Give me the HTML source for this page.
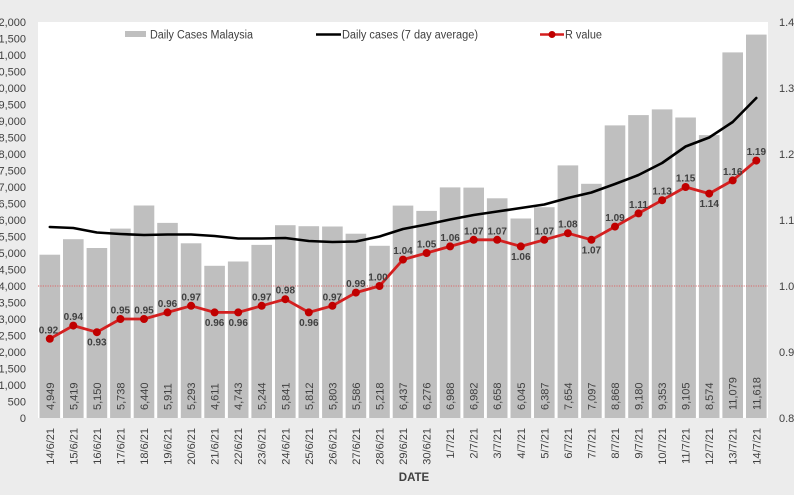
<!DOCTYPE html>
<html><head><meta charset="utf-8"><style>
html,body{margin:0;padding:0;background:#ececec;}
svg{display:block;}
text{font-family:"Liberation Sans",sans-serif;fill:#404040;}
</style></head><body>
<svg width="794" height="495" viewBox="0 0 794 495" xmlns="http://www.w3.org/2000/svg">
<rect x="0" y="0" width="794" height="495" fill="#ececec"/>
<rect x="38" y="22" width="730" height="396" fill="#ffffff"/>

<!-- left axis -->
<g font-size="11" text-anchor="end">
<text x="26" y="26">12,000</text>
<text x="26" y="42.5">11,500</text>
<text x="26" y="59">11,000</text>
<text x="26" y="75.5">10,500</text>
<text x="26" y="92">10,000</text>
<text x="26" y="108.5">9,500</text>
<text x="26" y="125">9,000</text>
<text x="26" y="141.5">8,500</text>
<text x="26" y="158">8,000</text>
<text x="26" y="174.5">7,500</text>
<text x="26" y="191">7,000</text>
<text x="26" y="207.5">6,500</text>
<text x="26" y="224">6,000</text>
<text x="26" y="240.5">5,500</text>
<text x="26" y="257">5,000</text>
<text x="26" y="273.5">4,500</text>
<text x="26" y="290">4,000</text>
<text x="26" y="306.5">3,500</text>
<text x="26" y="323">3,000</text>
<text x="26" y="339.5">2,500</text>
<text x="26" y="356">2,000</text>
<text x="26" y="372.5">1,500</text>
<text x="26" y="389">1,000</text>
<text x="26" y="405.5">500</text>
<text x="26" y="422">0</text>
</g>

<!-- right axis -->
<g font-size="11">
<text x="779" y="26">1.4</text>
<text x="779" y="92">1.3</text>
<text x="779" y="158">1.2</text>
<text x="779" y="224">1.1</text>
<text x="779" y="290">1.0</text>
<text x="779" y="356">0.9</text>
<text x="779" y="422">0.8</text>
</g>

<!-- bars -->
<g fill="#bfbfbf">
<rect x="39.5" y="254.7" width="20.6" height="163.3"/>
<rect x="63.0" y="239.2" width="20.6" height="178.8"/>
<rect x="86.6" y="248.0" width="20.6" height="170.0"/>
<rect x="110.1" y="228.6" width="20.6" height="189.4"/>
<rect x="133.7" y="205.5" width="20.6" height="212.5"/>
<rect x="157.2" y="222.9" width="20.6" height="195.1"/>
<rect x="180.8" y="243.3" width="20.6" height="174.7"/>
<rect x="204.3" y="265.8" width="20.6" height="152.2"/>
<rect x="227.9" y="261.5" width="20.6" height="156.5"/>
<rect x="251.4" y="244.9" width="20.6" height="173.1"/>
<rect x="275.0" y="225.2" width="20.6" height="192.8"/>
<rect x="298.5" y="226.2" width="20.6" height="191.8"/>
<rect x="322.1" y="226.5" width="20.6" height="191.5"/>
<rect x="345.6" y="233.7" width="20.6" height="184.3"/>
<rect x="369.2" y="245.8" width="20.6" height="172.2"/>
<rect x="392.7" y="205.6" width="20.6" height="212.4"/>
<rect x="416.3" y="210.9" width="20.6" height="207.1"/>
<rect x="439.8" y="187.4" width="20.6" height="230.6"/>
<rect x="463.4" y="187.6" width="20.6" height="230.4"/>
<rect x="486.9" y="198.3" width="20.6" height="219.7"/>
<rect x="510.5" y="218.5" width="20.6" height="199.5"/>
<rect x="534.0" y="207.2" width="20.6" height="210.8"/>
<rect x="557.6" y="165.4" width="20.6" height="252.6"/>
<rect x="581.1" y="183.8" width="20.6" height="234.2"/>
<rect x="604.7" y="125.4" width="20.6" height="292.6"/>
<rect x="628.2" y="115.1" width="20.6" height="302.9"/>
<rect x="651.8" y="109.4" width="20.6" height="308.6"/>
<rect x="675.3" y="117.5" width="20.6" height="300.5"/>
<rect x="698.9" y="135.1" width="20.6" height="282.9"/>
<rect x="722.4" y="52.4" width="20.6" height="365.6"/>
<rect x="746.0" y="34.6" width="20.6" height="383.4"/>
</g>

<!-- bar value labels -->
<g font-size="11" fill="#404040">
<text transform="translate(53.8,410) rotate(-90)">4,949</text>
<text transform="translate(77.3,410) rotate(-90)">5,419</text>
<text transform="translate(100.9,410) rotate(-90)">5,150</text>
<text transform="translate(124.4,410) rotate(-90)">5,738</text>
<text transform="translate(148.0,410) rotate(-90)">6,440</text>
<text transform="translate(171.5,410) rotate(-90)">5,911</text>
<text transform="translate(195.1,410) rotate(-90)">5,293</text>
<text transform="translate(218.6,410) rotate(-90)">4,611</text>
<text transform="translate(242.2,410) rotate(-90)">4,743</text>
<text transform="translate(265.7,410) rotate(-90)">5,244</text>
<text transform="translate(289.3,410) rotate(-90)">5,841</text>
<text transform="translate(312.8,410) rotate(-90)">5,812</text>
<text transform="translate(336.4,410) rotate(-90)">5,803</text>
<text transform="translate(359.9,410) rotate(-90)">5,586</text>
<text transform="translate(383.5,410) rotate(-90)">5,218</text>
<text transform="translate(407.0,410) rotate(-90)">6,437</text>
<text transform="translate(430.6,410) rotate(-90)">6,276</text>
<text transform="translate(454.1,410) rotate(-90)">6,988</text>
<text transform="translate(477.7,410) rotate(-90)">6,982</text>
<text transform="translate(501.2,410) rotate(-90)">6,658</text>
<text transform="translate(524.8,410) rotate(-90)">6,045</text>
<text transform="translate(548.3,410) rotate(-90)">6,387</text>
<text transform="translate(571.9,410) rotate(-90)">7,654</text>
<text transform="translate(595.4,410) rotate(-90)">7,097</text>
<text transform="translate(619.0,410) rotate(-90)">8,868</text>
<text transform="translate(642.5,410) rotate(-90)">9,180</text>
<text transform="translate(666.1,410) rotate(-90)">9,353</text>
<text transform="translate(689.6,410) rotate(-90)">9,105</text>
<text transform="translate(713.2,410) rotate(-90)">8,574</text>
<text transform="translate(736.7,410) rotate(-90)">11,079</text>
<text transform="translate(760.3,410) rotate(-90)">11,618</text>
</g>

<!-- x labels -->
<g font-size="11" text-anchor="end">
<text transform="translate(53.8,428) rotate(-90)">14/6/21</text>
<text transform="translate(77.3,428) rotate(-90)">15/6/21</text>
<text transform="translate(100.9,428) rotate(-90)">16/6/21</text>
<text transform="translate(124.4,428) rotate(-90)">17/6/21</text>
<text transform="translate(148.0,428) rotate(-90)">18/6/21</text>
<text transform="translate(171.5,428) rotate(-90)">19/6/21</text>
<text transform="translate(195.1,428) rotate(-90)">20/6/21</text>
<text transform="translate(218.6,428) rotate(-90)">21/6/21</text>
<text transform="translate(242.2,428) rotate(-90)">22/6/21</text>
<text transform="translate(265.7,428) rotate(-90)">23/6/21</text>
<text transform="translate(289.3,428) rotate(-90)">24/6/21</text>
<text transform="translate(312.8,428) rotate(-90)">25/6/21</text>
<text transform="translate(336.4,428) rotate(-90)">26/6/21</text>
<text transform="translate(359.9,428) rotate(-90)">27/6/21</text>
<text transform="translate(383.5,428) rotate(-90)">28/6/21</text>
<text transform="translate(407.0,428) rotate(-90)">29/6/21</text>
<text transform="translate(430.6,428) rotate(-90)">30/6/21</text>
<text transform="translate(454.1,428) rotate(-90)">1/7/21</text>
<text transform="translate(477.7,428) rotate(-90)">2/7/21</text>
<text transform="translate(501.2,428) rotate(-90)">3/7/21</text>
<text transform="translate(524.8,428) rotate(-90)">4/7/21</text>
<text transform="translate(548.3,428) rotate(-90)">5/7/21</text>
<text transform="translate(571.9,428) rotate(-90)">6/7/21</text>
<text transform="translate(595.4,428) rotate(-90)">7/7/21</text>
<text transform="translate(619.0,428) rotate(-90)">8/7/21</text>
<text transform="translate(642.5,428) rotate(-90)">9/7/21</text>
<text transform="translate(666.1,428) rotate(-90)">10/7/21</text>
<text transform="translate(689.6,428) rotate(-90)">11/7/21</text>
<text transform="translate(713.2,428) rotate(-90)">12/7/21</text>
<text transform="translate(736.7,428) rotate(-90)">13/7/21</text>
<text transform="translate(760.3,428) rotate(-90)">14/7/21</text>
</g>

<text x="414" y="481" font-size="11.5" font-weight="bold" text-anchor="middle">DATE</text>

<!-- dotted R=1 line -->
<line x1="38" y1="286" x2="768" y2="286" stroke="#d96a6a" stroke-width="1" stroke-dasharray="1.2,1.2"/>

<!-- 7-day average -->
<polyline fill="none" stroke="#000" stroke-width="2.6" stroke-linejoin="round" stroke-linecap="round"
points="49.8,227 73.3,228 96.9,232.5 120.4,234 144.0,235 167.5,234.5 191.1,234.5 214.6,236 238.2,238.5 261.7,238.5 285.3,238 308.8,241 332.4,242 355.9,241.5 379.5,236.5 403.0,229 426.6,224.5 450.1,219.5 473.7,215 497.2,211.5 520.8,208 544.3,204.5 567.9,198 591.4,192.5 615.0,184 638.5,175 662.1,163 685.6,146.5 709.2,137.5 732.7,122 756.3,98"/>

<!-- R value -->
<polyline fill="none" stroke="#d41f1f" stroke-width="2.8" stroke-linejoin="round"
points="49.8,338.8 73.3,325.6 96.9,332.2 120.4,319 144.0,319 167.5,312.4 191.1,305.8 214.6,312.4 238.2,312.4 261.7,305.8 285.3,299.2 308.8,312.4 332.4,305.8 355.9,292.6 379.5,286 403.0,259.6 426.6,253 450.1,246.4 473.7,239.8 497.2,239.8 520.8,246.4 544.3,239.8 567.9,233.2 591.4,239.8 615.0,226.6 638.5,213.4 662.1,200.2 685.6,187 709.2,193.6 732.7,180.4 756.3,160.6"/>
<g fill="#c00000">
<circle cx="49.8" cy="338.8" r="4"/><circle cx="73.3" cy="325.6" r="4"/><circle cx="96.9" cy="332.2" r="4"/><circle cx="120.4" cy="319" r="4"/><circle cx="144.0" cy="319" r="4"/><circle cx="167.5" cy="312.4" r="4"/><circle cx="191.1" cy="305.8" r="4"/><circle cx="214.6" cy="312.4" r="4"/><circle cx="238.2" cy="312.4" r="4"/><circle cx="261.7" cy="305.8" r="4"/><circle cx="285.3" cy="299.2" r="4"/><circle cx="308.8" cy="312.4" r="4"/><circle cx="332.4" cy="305.8" r="4"/><circle cx="355.9" cy="292.6" r="4"/><circle cx="379.5" cy="286" r="4"/><circle cx="403.0" cy="259.6" r="4"/><circle cx="426.6" cy="253" r="4"/><circle cx="450.1" cy="246.4" r="4"/><circle cx="473.7" cy="239.8" r="4"/><circle cx="497.2" cy="239.8" r="4"/><circle cx="520.8" cy="246.4" r="4"/><circle cx="544.3" cy="239.8" r="4"/><circle cx="567.9" cy="233.2" r="4"/><circle cx="591.4" cy="239.8" r="4"/><circle cx="615.0" cy="226.6" r="4"/><circle cx="638.5" cy="213.4" r="4"/><circle cx="662.1" cy="200.2" r="4"/><circle cx="685.6" cy="187" r="4"/><circle cx="709.2" cy="193.6" r="4"/><circle cx="732.7" cy="180.4" r="4"/><circle cx="756.3" cy="160.6" r="4"/>
</g>

<!-- R labels -->
<g font-size="10" font-weight="bold" text-anchor="middle" fill="#333">
<text x="48.5" y="333.3">0.92</text>
<text x="73.3" y="320.1">0.94</text>
<text x="96.9" y="345.7">0.93</text>
<text x="120.4" y="313.5">0.95</text>
<text x="144.0" y="313.5">0.95</text>
<text x="167.5" y="306.9">0.96</text>
<text x="191.1" y="300.3">0.97</text>
<text x="214.6" y="325.9">0.96</text>
<text x="238.2" y="325.9">0.96</text>
<text x="261.7" y="300.3">0.97</text>
<text x="285.3" y="293.7">0.98</text>
<text x="308.8" y="325.9">0.96</text>
<text x="332.4" y="300.3">0.97</text>
<text x="355.9" y="287.1">0.99</text>
<text x="378" y="280.5">1.00</text>
<text x="403.0" y="254.1">1.04</text>
<text x="426.6" y="247.5">1.05</text>
<text x="450.1" y="240.9">1.06</text>
<text x="473.7" y="234.3">1.07</text>
<text x="497.2" y="234.3">1.07</text>
<text x="520.8" y="259.9">1.06</text>
<text x="544.3" y="234.3">1.07</text>
<text x="567.9" y="227.7">1.08</text>
<text x="591.4" y="253.3">1.07</text>
<text x="615.0" y="221.1">1.09</text>
<text x="638.5" y="207.9">1.11</text>
<text x="662.1" y="194.7">1.13</text>
<text x="685.6" y="181.5">1.15</text>
<text x="709.2" y="207.1">1.14</text>
<text x="732.7" y="174.9">1.16</text>
<text x="756.3" y="155.1">1.19</text>
</g>

<!-- legend -->
<rect x="125" y="31" width="21" height="6" fill="#bfbfbf"/>
<text x="150" y="38.5" font-size="11.5" textLength="103" lengthAdjust="spacingAndGlyphs">Daily Cases Malaysia</text>
<line x1="316" y1="34.5" x2="341" y2="34.5" stroke="#000" stroke-width="2.6"/>
<text x="342" y="38.5" font-size="11.5" textLength="136" lengthAdjust="spacingAndGlyphs">Daily cases (7 day average)</text>
<line x1="540" y1="34.5" x2="564" y2="34.5" stroke="#d41f1f" stroke-width="2.6"/>
<circle cx="552" cy="34.5" r="3.5" fill="#c00000"/>
<text x="565" y="38.5" font-size="11.5" textLength="37" lengthAdjust="spacingAndGlyphs">R value</text>
</svg>
</body></html>
